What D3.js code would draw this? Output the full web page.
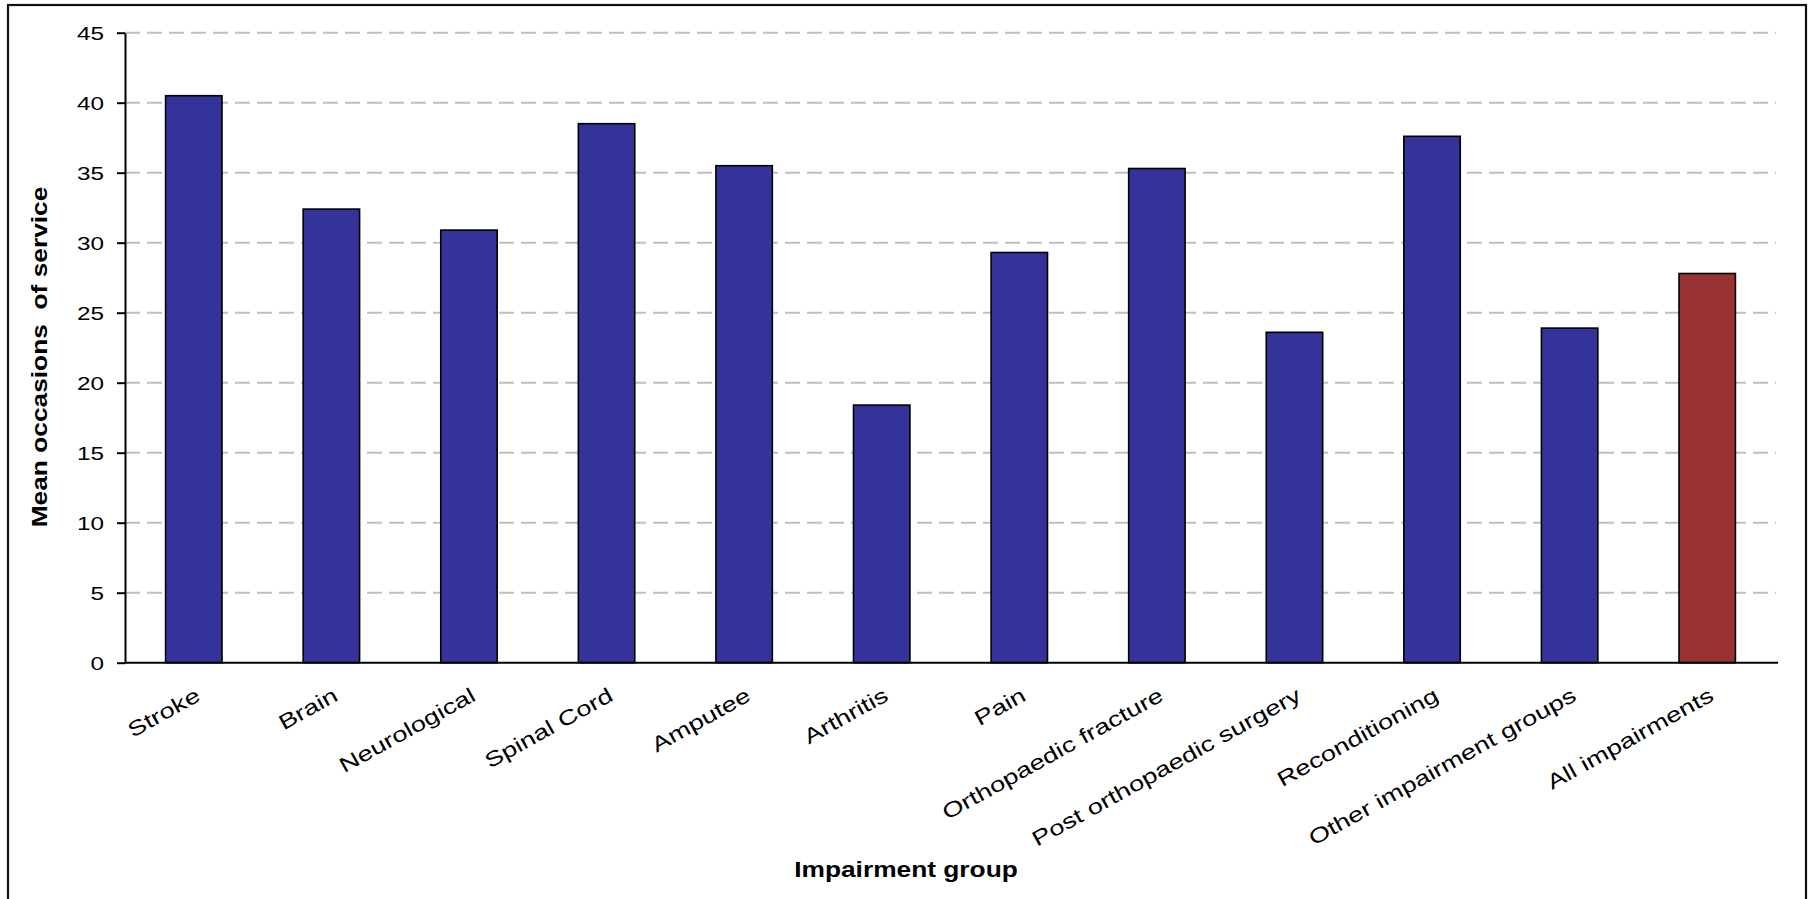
<!DOCTYPE html>
<html>
<head>
<meta charset="utf-8">
<script src="https://cdn.jsdelivr.net/npm/d3@7"></script>
<style>
  html, body { margin: 0; padding: 0; background: #ffffff; }
  svg { display: block; }
  text { font-family: "Liberation Sans", Arial, sans-serif; fill: #000; }
</style>
</head>
<body>
<svg id="chart" width="1810" height="899"></svg>
<script>
// ---- Data ----
const categories = [
  "Stroke", "Brain", "Neurological", "Spinal Cord", "Amputee", "Arthritis",
  "Pain", "Orthopaedic fracture", "Post orthopaedic surgery", "Reconditioning",
  "Other impairment groups", "All impairments"
];
const meanOccasions = [40.5, 32.4, 30.9, 38.5, 35.5, 18.4, 29.3, 35.3, 23.6, 37.6, 23.9, 27.8];
const highlightCategory = "All impairments";
const yTicks = [0, 5, 10, 15, 20, 25, 30, 35, 40, 45];
const yTitle = "Mean occasions  of service";
const xTitle = "Impairment group";

// ---- Layout ----
const plot = { left: 125, right: 1776, top: 32.7, bottom: 662.7 };
const svg = d3.select("#chart");

// outer frame (bottom edge runs past the picture)
svg.append("rect")
  .attr("x", 8).attr("y", 5).attr("width", 1798).attr("height", 905)
  .attr("fill", "#fff").attr("stroke", "#111").attr("stroke-width", 2.2);

const x = d3.scaleBand()
  .domain(categories)
  .range([plot.left, plot.right])
  .paddingInner(0.59)
  .paddingOuter(0.295);

const y = d3.scaleLinear()
  .domain([0, 45])
  .range([plot.bottom, plot.top]);

// gridlines
svg.append("g")
  .selectAll("line")
  .data(yTicks.filter(d => d > 0))
  .join("line")
  .attr("x1", plot.left).attr("x2", plot.right)
  .attr("y1", d => y(d)).attr("y2", d => y(d))
  .attr("stroke", "#c0c0c0")
  .attr("stroke-width", 2)
  .attr("stroke-dasharray", "15,7");

// bars
svg.append("g")
  .selectAll("rect")
  .data(categories.map((c, i) => ({ c, v: meanOccasions[i] })))
  .join("rect")
  .attr("x", d => x(d.c))
  .attr("width", x.bandwidth())
  .attr("y", d => y(d.v))
  .attr("height", d => y(0) - y(d.v))
  .attr("fill", d => d.c === highlightCategory ? "#993333" : "#333399")
  .attr("stroke", "#000")
  .attr("stroke-width", 1.6);

// y axis
const yAxis = svg.append("g")
  .attr("transform", `translate(${plot.left},0)`)
  .call(d3.axisLeft(y).tickValues(yTicks).tickSize(8).tickSizeOuter(0).tickFormat(d3.format("d")));
yAxis.select(".domain").attr("stroke", "#000").attr("stroke-width", 2);
yAxis.selectAll(".tick line").attr("stroke", "#000").attr("stroke-width", 2);
yAxis.selectAll(".tick text")
  .attr("x", 0)
  .attr("dy", "0.36em")
  .attr("transform", "translate(-21,0) scale(1.35,1)")
  .style("font-size", "18px")
  .style("text-anchor", "end");

// x axis
const xAxis = svg.append("g")
  .attr("transform", `translate(0,${plot.bottom})`)
  .call(d3.axisBottom(x).tickSize(0).tickSizeOuter(0));
xAxis.select(".domain").attr("stroke", "#000").attr("stroke-width", 2)
  .attr("d", `M${plot.left},0H${plot.right + 2}`);
xAxis.selectAll(".tick text")
  .attr("x", 0).attr("y", 0).attr("dy", 0)
  .attr("transform", "translate(8,37) rotate(-29) scale(1.3,1)")
  .style("font-size", "21px")
  .style("text-anchor", "end");

// axis titles
svg.append("text")
  .attr("transform", `translate(46.5,${(192 + 522) / 2}) rotate(-90) scale(1.17,1)`)
  .attr("text-anchor", "middle")
  .style("font-size", "22.5px")
  .style("font-weight", "bold")
  .style("white-space", "pre")
  .text(yTitle);

svg.append("text")
  .attr("transform", `translate(906,876.5) scale(1.17,1)`)
  .attr("text-anchor", "middle")
  .style("font-size", "22.5px")
  .style("font-weight", "bold")
  .text(xTitle);
</script>
</body>
</html>
